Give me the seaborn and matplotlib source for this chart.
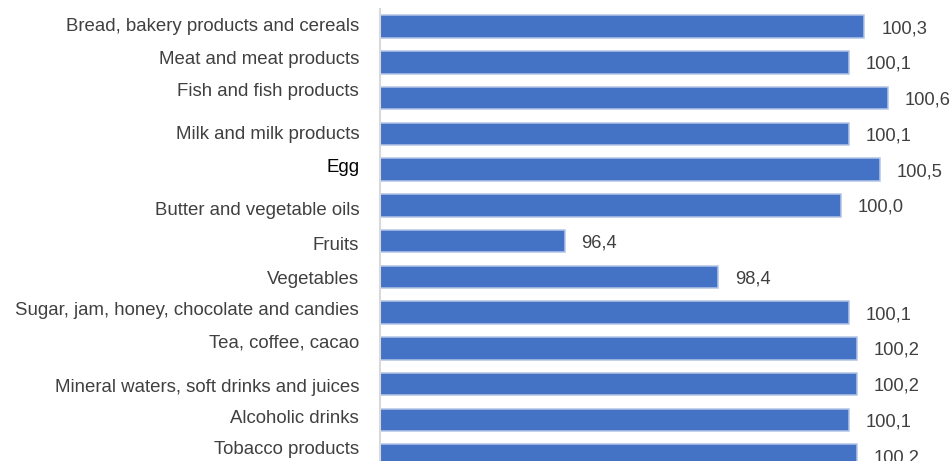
import matplotlib
matplotlib.use("Agg")
import matplotlib.pyplot as plt
import matplotlib.transforms as mtransforms
import seaborn as sns
import pandas as pd

categories = [
    "Bread, bakery products and cereals",
    "Meat and meat products",
    "Fish and fish products",
    "Milk and milk products",
    "Egg",
    "Butter and vegetable oils",
    "Fruits",
    "Vegetables",
    "Sugar, jam, honey, chocolate and candies",
    "Tea, coffee, cacao",
    "Mineral waters, soft drinks and juices",
    "Alcoholic drinks",
    "Tobacco products",
]
values = [100.3, 100.1, 100.6, 100.1, 100.5, 100.0, 96.4, 98.4, 100.1, 100.2, 100.2, 100.1, 100.2]

# small per-label vertical nudges (pixels, positive = down) as in the reference
label_nudge_px = [-2, -5, -9, -1, -4.5, 3.5, 2, 1, -4, -7, 1, -3, -8]

df = pd.DataFrame({"category": categories, "value": values})

sns.set_theme(style="white")
plt.rcParams["font.family"] = ["Liberation Sans", "DejaVu Sans"]

DPI = 100
fig = plt.figure(figsize=(9.53, 4.61), dpi=DPI)
W, H = 953, 461
ax = fig.add_axes([380 / W, 0.0, 1 - 380 / W, 1 - 9 / H])

bar_color = "#4472C4"
sns.barplot(data=df, y="category", x="value", orient="h", color=bar_color,
            edgecolor="#b4c5e7", linewidth=1.1, width=0.63, ax=ax,
            saturation=1, native_scale=False)

ax.set_xlim(94, 94 + 573 / 76.9)
ax.set_ylim(12.15, -0.49)

ax.set_xlabel("")
ax.set_ylabel("")
ax.set_xticks([])
for s in ["top", "right", "bottom"]:
    ax.spines[s].set_visible(False)
ax.spines["left"].set_color("#d9d9d9")
ax.spines["left"].set_linewidth(1.5)

ax.tick_params(axis="y", length=0, pad=15, labelsize=13.4, labelcolor="#404040")
for i, lab in enumerate(ax.get_yticklabels()):
    if lab.get_text() == "Egg":
        lab.set_color("#000000")
    off = mtransforms.ScaledTranslation(0, -label_nudge_px[i] / DPI, fig.dpi_scale_trans)
    lab.set_transform(lab.get_transform() + off)

container = ax.containers[0]
labels = [f"{v:.1f}".replace(".", ",") for v in values]
texts = ax.bar_label(container, labels=labels, padding=12, fontsize=13.2, color="#404040")
for t in texts:
    t.set_va("center_baseline")
    t.set_transform(t.get_transform() + mtransforms.ScaledTranslation(0, -2 / DPI, fig.dpi_scale_trans))

fig.savefig("out.png", dpi=DPI)
